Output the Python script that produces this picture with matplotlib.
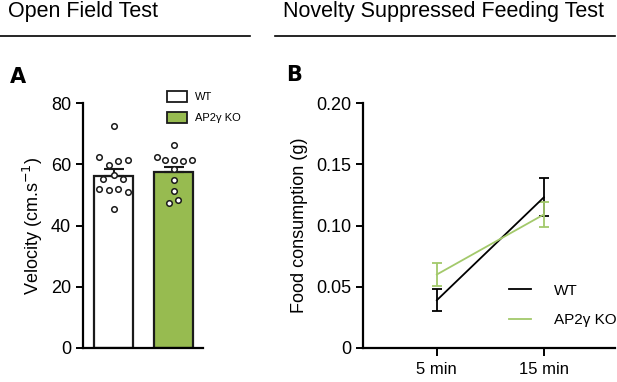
import numpy as np
import matplotlib
matplotlib.use("Agg")
import matplotlib.pyplot as plt
from matplotlib.patches import Patch
from matplotlib.lines import Line2D

plt.rcParams['font.family'] = ['Liberation Sans Narrow', 'Liberation Sans', 'DejaVu Sans']

# Panel A: open field velocity
groups = ['WT', 'AP2γ KO']
bar_means = [56.3, 57.4]
bar_sems = [2.2, 1.6]
wt_points = [72.5, 62.5, 59.7, 61.2, 61.4, 55.2, 56.5, 55.2, 52.0, 51.5, 52.0, 50.8, 45.3]
ko_points = [62.3, 61.3, 61.3, 61.0, 61.3, 66.2, 58.4, 55.0, 51.4, 47.3, 48.3]
# horizontal scatter offsets (layout only)
wt_jitter = [0.0, -0.25, -0.08, 0.08, 0.24, -0.17, 0.0, 0.15, -0.25, -0.08, 0.08, 0.24, 0.0]
ko_jitter = [-0.28, -0.14, 0.0, 0.15, 0.30, 0.0, 0.0, 0.0, 0.0, -0.07, 0.08]

# Panel B: novelty suppressed feeding
time_labels = ['5 min', '15 min']
wt_food = [0.039, 0.123]
wt_food_sem = [0.0092, 0.0155]
ko_food = [0.060, 0.109]
ko_food_sem = [0.0091, 0.0102]

green_bar = '#97bb50'
green_line = '#a3c96b'

fig = plt.figure(figsize=(6.17, 3.82), dpi=100)

# headers
fig.text(8 / 617, 1 - 12 / 382, 'Open Field Test', fontsize=15.5, va='center', ha='left')
fig.text(283 / 617, 1 - 12 / 382, 'Novelty Suppressed Feeding Test', fontsize=15.5, va='center', ha='left')
fig.add_artist(Line2D([0, 250 / 617], [1 - 36 / 382] * 2, color='black', lw=1.2))
fig.add_artist(Line2D([275 / 617, 615 / 617], [1 - 36 / 382] * 2, color='black', lw=1.2))
fig.text(10 / 617, 1 - 77 / 382, 'A', fontsize=15, fontweight='bold', va='center', family='DejaVu Sans')
fig.text(286 / 617, 1 - 75 / 382, 'B', fontsize=15, fontweight='bold', va='center', family='DejaVu Sans')

# ---- Panel A ----
axA = fig.add_axes([83 / 617, 34 / 382, 120 / 617, 245 / 382])
x = np.arange(len(groups))
axA.bar(x, bar_means, width=0.65, color=['white', green_bar], edgecolor='#1a1a1a', linewidth=1.6, zorder=2)
for xi, m, s in zip(x, bar_means, bar_sems):
    axA.errorbar(xi, m, yerr=[[0], [s]], color='#1a1a1a', lw=1.5, capsize=7, capthick=1.5, zorder=3)
axA.scatter(x[0] + np.array(wt_jitter), wt_points, s=16, facecolor='white', edgecolor='#1a1a1a', linewidth=1.1, zorder=4)
axA.scatter(x[1] + np.array(ko_jitter), ko_points, s=16, facecolor='white', edgecolor='#1a1a1a', linewidth=1.1, zorder=4)
axA.set_xlim(-0.51, 1.49)
axA.set_ylim(0, 80)
axA.set_yticks([0, 20, 40, 60, 80])
axA.set_xticks([])
axA.set_ylabel('Velocity (cm.s$^{-1}$)', fontsize=13, labelpad=4)
for sp in ['top', 'right']:
    axA.spines[sp].set_visible(False)
for sp in ['left', 'bottom']:
    axA.spines[sp].set_linewidth(1.6)
axA.tick_params(axis='y', labelsize=13, width=1.4, length=5)
handles = [Patch(facecolor='white', edgecolor='#1a1a1a', lw=1.3, label='WT'),
           Patch(facecolor=green_bar, edgecolor='#1a1a1a', lw=1.3, label='AP2γ KO')]
axA.legend(handles=handles, loc='upper left', bbox_to_anchor=(0.62, 1.09), frameon=False,
           fontsize=8, handlelength=1.8, handleheight=1.1, labelspacing=0.9, handletextpad=0.7)

# ---- Panel B ----
axB = fig.add_axes([363 / 617, 34 / 382, 252 / 617, 245 / 382])
t = np.arange(len(time_labels))
axB.errorbar(t, wt_food, yerr=wt_food_sem, color='black', lw=1.3, capsize=3.5, capthick=1.3, label='WT')
axB.errorbar(t, ko_food, yerr=ko_food_sem, color=green_line, lw=1.3, capsize=3.5, capthick=1.3, label='AP2γ KO')
axB.set_xlim(-0.69, 1.665)
axB.set_ylim(0, 0.20)
axB.set_yticks([0, 0.05, 0.10, 0.15, 0.20])
axB.set_yticklabels(['0', '0.05', '0.10', '0.15', '0.20'])
axB.set_xticks(t)
axB.set_xticklabels(time_labels)
axB.set_ylabel('Food consumption (g)', fontsize=13, labelpad=6)
for sp in ['top', 'right']:
    axB.spines[sp].set_visible(False)
for sp in ['left', 'bottom']:
    axB.spines[sp].set_linewidth(1.6)
axB.tick_params(axis='y', labelsize=13, width=1.4, length=5)
axB.tick_params(axis='x', labelsize=12, width=1.4, length=6, pad=4)
lh = [Line2D([], [], color='black', lw=1.3), Line2D([], [], color=green_line, lw=1.3)]
axB.legend(lh, ['WT', 'AP2γ KO'], loc='lower right', bbox_to_anchor=(1.06, 0.03), frameon=False,
           fontsize=11, handlelength=1.4, labelspacing=1.0, handletextpad=1.5)

fig.savefig('out.png', dpi=100)
